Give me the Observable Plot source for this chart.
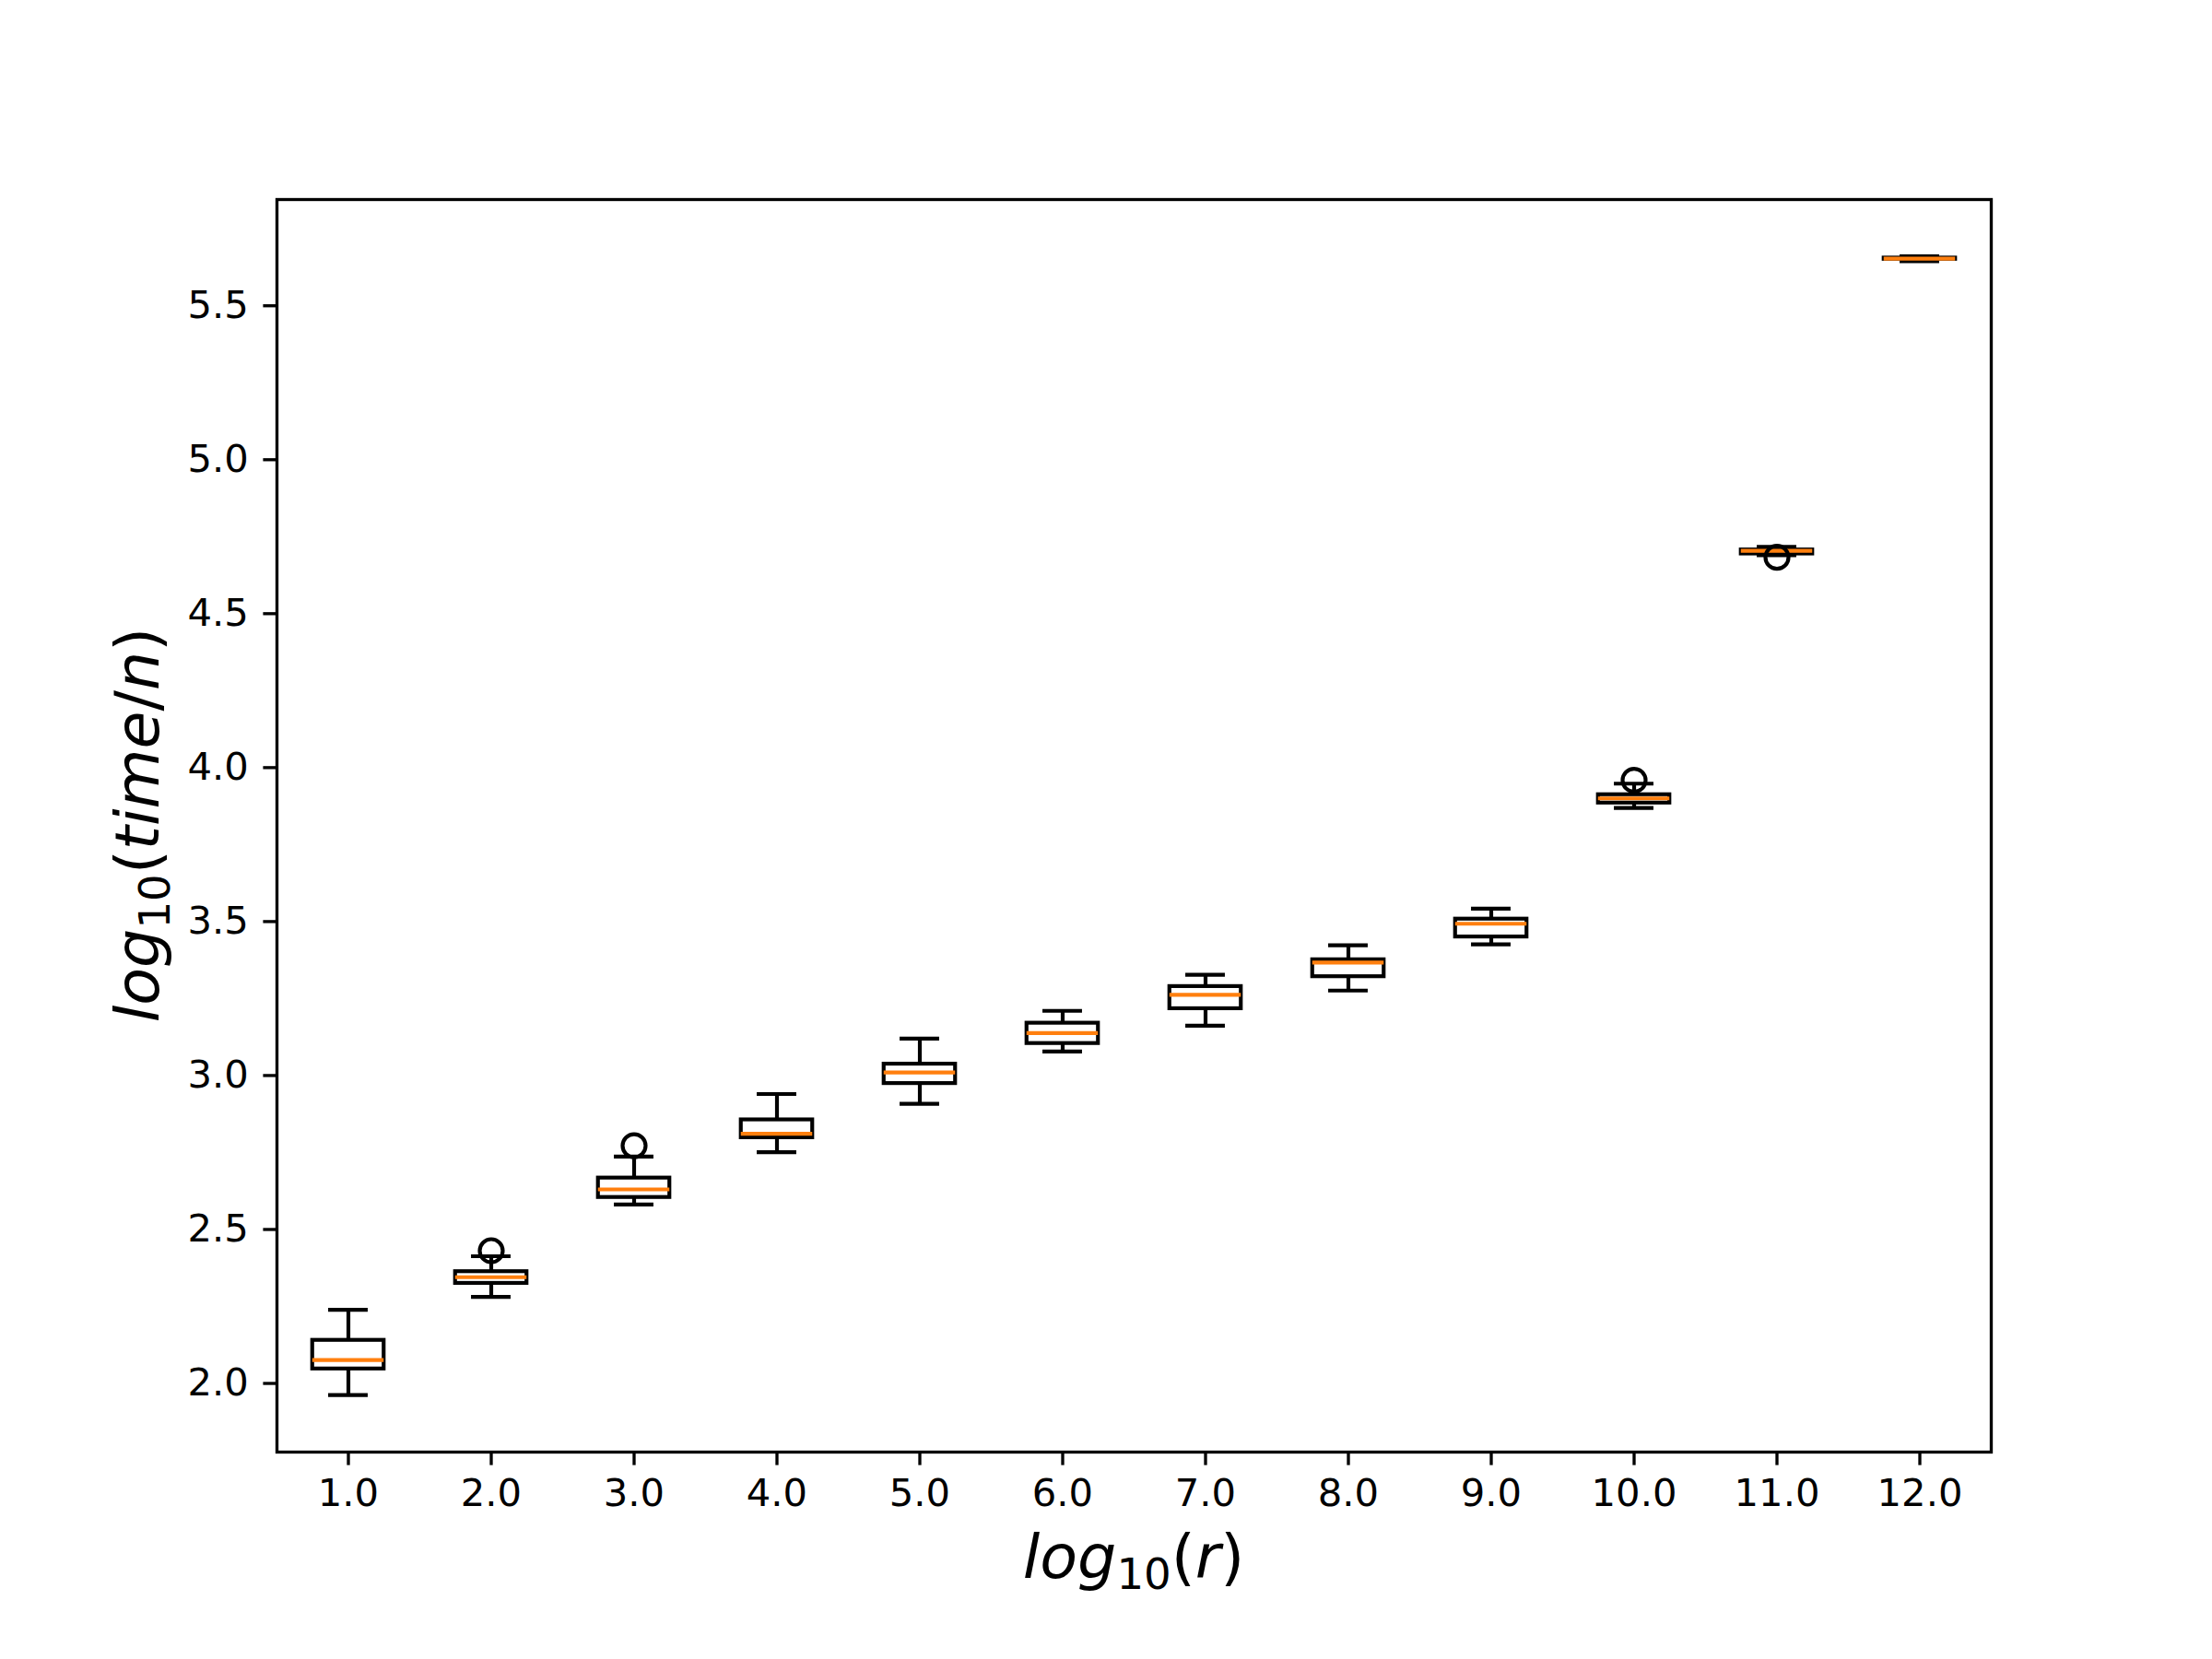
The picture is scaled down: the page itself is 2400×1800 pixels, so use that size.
<!DOCTYPE html>
<html>
<head>
<meta charset="utf-8">
<script src="https://cdn.jsdelivr.net/npm/d3@7"></script>
<script src="https://cdn.jsdelivr.net/npm/@observablehq/plot@0.6"></script>
<style>
  html, body { margin: 0; padding: 0; background: #fff; }
  #chart { width: 2400px; height: 1800px; }
  svg { font-family: "DejaVu Sans", sans-serif; }
</style>
</head>
<body>
<div id="chart"></div>
<script>
// ---- data ----
const positions   = [1, 2, 3, 4, 5, 6, 7, 8, 9, 10, 11, 12];
const whiskerLow  = [1.962, 2.281, 2.581, 2.751, 2.908, 3.078, 3.162, 3.276, 3.426, 3.869, 4.690, 5.645];
const q1          = [2.047, 2.325, 2.604, 2.798, 2.974, 3.104, 3.217, 3.321, 3.450, 3.885, 4.694, 5.651];
const medians     = [2.076, 2.345, 2.630, 2.811, 3.010, 3.138, 3.262, 3.367, 3.493, 3.900, 4.704, 5.653];
const q3          = [2.140, 2.363, 2.667, 2.856, 3.037, 3.170, 3.289, 3.376, 3.508, 3.912, 4.707, 5.655];
const whiskerHigh = [2.239, 2.413, 2.737, 2.940, 3.120, 3.210, 3.327, 3.423, 3.542, 3.948, 4.717, 5.661];
const outlierX    = [2, 3, 10, 11];
const outlierY    = [2.431, 2.772, 3.959, 4.683];
const xTicks      = [1, 2, 3, 4, 5, 6, 7, 8, 9, 10, 11, 12];
const yTicks      = [2.0, 2.5, 3.0, 3.5, 4.0, 4.5, 5.0, 5.5];

const boxes = positions.map((x, i) => ({
  x, lo: whiskerLow[i], q1: q1[i], med: medians[i], q3: q3[i], hi: whiskerHigh[i]
}));
const outliers = outlierX.map((x, i) => ({x, y: outlierY[i]}));

const LW = 4.17;       // 1pt at 300 dpi
const HALF_BOX = 0.25; // box width 0.5
const HALF_CAP = 0.125;

const plot = Plot.plot({
  width: 2400,
  height: 1800,
  marginLeft: 300,
  marginRight: 240,
  marginTop: 216,
  marginBottom: 225,
  style: {fontFamily: "DejaVu Sans", fontSize: "41.7px", color: "black", background: "white"},
  x: {domain: [0.5, 12.5], label: null},
  y: {domain: [1.777, 5.845], label: null},
  marks: [
    // whiskers
    Plot.ruleX(boxes, {x: "x", y1: "lo", y2: "q1", stroke: "black", strokeWidth: LW}),
    Plot.ruleX(boxes, {x: "x", y1: "q3", y2: "hi", stroke: "black", strokeWidth: LW}),
    // caps
    Plot.ruleY(boxes, {y: "lo", x1: d => d.x - HALF_CAP, x2: d => d.x + HALF_CAP, stroke: "black", strokeWidth: LW, strokeLinecap: "square"}),
    Plot.ruleY(boxes, {y: "hi", x1: d => d.x - HALF_CAP, x2: d => d.x + HALF_CAP, stroke: "black", strokeWidth: LW, strokeLinecap: "square"}),
    // boxes
    Plot.rect(boxes, {x1: d => d.x - HALF_BOX, x2: d => d.x + HALF_BOX, y1: "q1", y2: "q3", fill: "none", stroke: "black", strokeWidth: LW, strokeLinejoin: "miter"}),
    // medians
    Plot.ruleY(boxes, {y: "med", x1: d => d.x - HALF_BOX, x2: d => d.x + HALF_BOX, stroke: "#ff7f0e", strokeWidth: LW}),
    // fliers
    Plot.dot(outliers, {x: "x", y: "y", r: 12.5, fill: "none", stroke: "black", strokeWidth: LW}),
    // axes
    Plot.axisX({ticks: xTicks, tickFormat: d => d.toFixed(1), tickSize: 14.6, tickPadding: 14, strokeWidth: 3.33, fontSize: 41.7, label: null}),
    Plot.axisY({ticks: yTicks, tickFormat: d => d.toFixed(1), tickSize: 14.6, tickPadding: 16, strokeWidth: 3.33, fontSize: 41.7, label: null}),
    Plot.frame({stroke: "black", strokeWidth: 3.33})
  ]
});

document.getElementById("chart").appendChild(plot);

// ---- axis labels in mathtext-like style ----
const svg = d3.select(plot);
const FS = 66.7, SUB = 46.7;

function mathLabel(g, parts) {
  const t = g.append("text")
    .attr("text-anchor", "middle")
    .attr("font-family", "DejaVu Sans")
    .attr("font-size", FS)
    .attr("fill", "black");
  parts.forEach(([s, italic, sub]) => {
    const ts = t.append("tspan").text(s)
      .attr("font-style", italic ? "italic" : "normal");
    if (sub) ts.attr("font-size", SUB).attr("dy", 12);
    else ts.attr("dy", 0);
  });
  // reset baseline after subscript
  t.selectAll("tspan").each(function(d, i, nodes) {
    const prev = i > 0 ? parts[i - 1][2] : false;
    const cur = parts[i][2];
    if (!cur && prev) d3.select(this).attr("dy", -12);
  });
  return t;
}

const xl = svg.append("g").attr("transform", "translate(1230,1712)");
mathLabel(xl, [["log", true, false], ["10", false, true], ["(", false, false], ["r", true, false], [")", false, false]]);

const yl = svg.append("g").attr("transform", "translate(172,895) rotate(-90)");
mathLabel(yl, [["log", true, false], ["10", false, true], ["(", false, false], ["time", true, false], ["/", false, false], ["n", true, false], [")", false, false]]);
</script>
</body>
</html>
